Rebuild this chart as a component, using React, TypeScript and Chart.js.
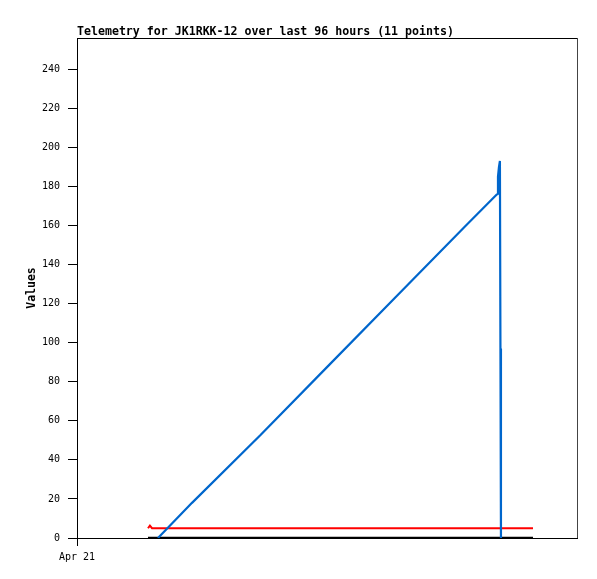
import React, { useEffect, useRef } from "react";
import { Chart, registerables } from "chart.js";

Chart.register(...registerables);

const titleText = "Telemetry for JK1RKK-12 over last 96 hours (11 points)";
const yAxisTitle = "Values";
const xTickLabels = ["Apr 21"];
const xTickHours = [0];

// hours since Apr 21 00:00
const blueHours = [15.55, 22.08, 35.14, 48.19, 61.25, 74.3, 80.64, 80.83, 81.02, 81.2, 81.3, 81.4];
const blueValues = [0, 18, 52.5, 88, 123.5, 159, 176, 185, 190, 193, 97, 0];

const redHours = [13.63, 14.0, 14.4, 87.55];
const redValues = [5, 6.3, 5, 5];

const blackHours = [13.63, 87.55];
const blackValues = [0, 0];

const toPoints = (xs: number[], ys: number[]) => xs.map((x, i) => ({ x, y: ys[i] }));

const decorPlugin = {
  id: "decor",
  afterDraw(chart: any) {
    const { ctx, chartArea } = chart;
    const { left, right, top, bottom } = chartArea;
    ctx.save();
    ctx.strokeStyle = "#000";
    ctx.lineWidth = 1;
    ctx.beginPath();
    ctx.moveTo(left, top + 0.5);
    ctx.lineTo(right, top + 0.5);
    ctx.stroke();
    ctx.strokeStyle = "#444";
    ctx.beginPath();
    ctx.moveTo(right + 0.5, top);
    ctx.lineTo(right + 0.5, bottom);
    ctx.stroke();
    ctx.fillStyle = "#000";
    ctx.font = "bold 11.6px 'DejaVu Sans Mono'";
    ctx.textAlign = "left";
    ctx.textBaseline = "alphabetic";
    ctx.fillText(titleText, left, 35);
    ctx.translate(35, (top + bottom) / 2);
    ctx.rotate(-Math.PI / 2);
    ctx.textAlign = "center";
    ctx.font = "bold 11.5px 'DejaVu Sans Mono'";
    ctx.fillText(yAxisTitle, 0, 0);
    ctx.restore();
  },
};

export default function App() {
  const ref = useRef<HTMLCanvasElement | null>(null);
  useEffect(() => {
    if (!ref.current) return;
    const chart = new Chart(ref.current, {
      type: "line",
      data: {
        datasets: [
          {
            data: toPoints(blueHours, blueValues),
            borderColor: "#0066cc",
            borderWidth: 2.2,
            pointRadius: 0,
            tension: 0,
            borderJoinStyle: "bevel",
          },
          {
            data: toPoints(redHours, redValues),
            borderColor: "#ff0000",
            borderWidth: 2,
            pointRadius: 0,
            tension: 0,
          },
          {
            data: toPoints(blackHours, blackValues),
            borderColor: "#000000",
            borderWidth: 2.5,
            pointRadius: 0,
            tension: 0,
          },
        ],
      },
      options: {
        responsive: false,
        animation: false,
        layout: { padding: { left: 0, top: 38, right: 20, bottom: 0 } },
        plugins: {
          legend: { display: false },
          title: { display: false },
          tooltip: { enabled: false },
        },
        scales: {
          x: {
            type: "linear",
            min: 0,
            max: 96,
            afterFit: (s: any) => {
              s.height = 41;
            },
            afterBuildTicks: (s: any) => {
              s.ticks = xTickHours.map((v) => ({ value: v }));
            },
            ticks: {
              color: "#000",
              font: { family: "'DejaVu Sans Mono'", size: 10 },
              padding: 5,
              maxRotation: 0,
              callback: (v: any) => {
                const i = xTickHours.indexOf(Number(v));
                return i >= 0 ? xTickLabels[i] : "";
              },
            },
            grid: {
              drawOnChartArea: false,
              drawTicks: true,
              tickLength: 8,
              color: "#000",
            },
            border: { display: true, color: "#000", width: 1 },
          },
          y: {
            type: "linear",
            min: 0,
            max: 256,
            afterFit: (s: any) => {
              s.width = 77;
            },
            ticks: {
              stepSize: 20,
              includeBounds: false,
              color: "#000",
              font: { family: "'DejaVu Sans Mono'", size: 10 },
              padding: 8,
            },
            grid: {
              drawOnChartArea: false,
              drawTicks: true,
              tickLength: 9,
              color: "#000",
            },
            border: { display: true, color: "#000", width: 1 },
          },
        },
      },
      plugins: [decorPlugin],
    });
    return () => chart.destroy();
  }, []);
  return (
    <canvas
      ref={ref}
      width={597}
      height={579}
      style={{ position: "absolute", left: 0, top: 0, display: "block", background: "#fff" }}
    />
  );
}
